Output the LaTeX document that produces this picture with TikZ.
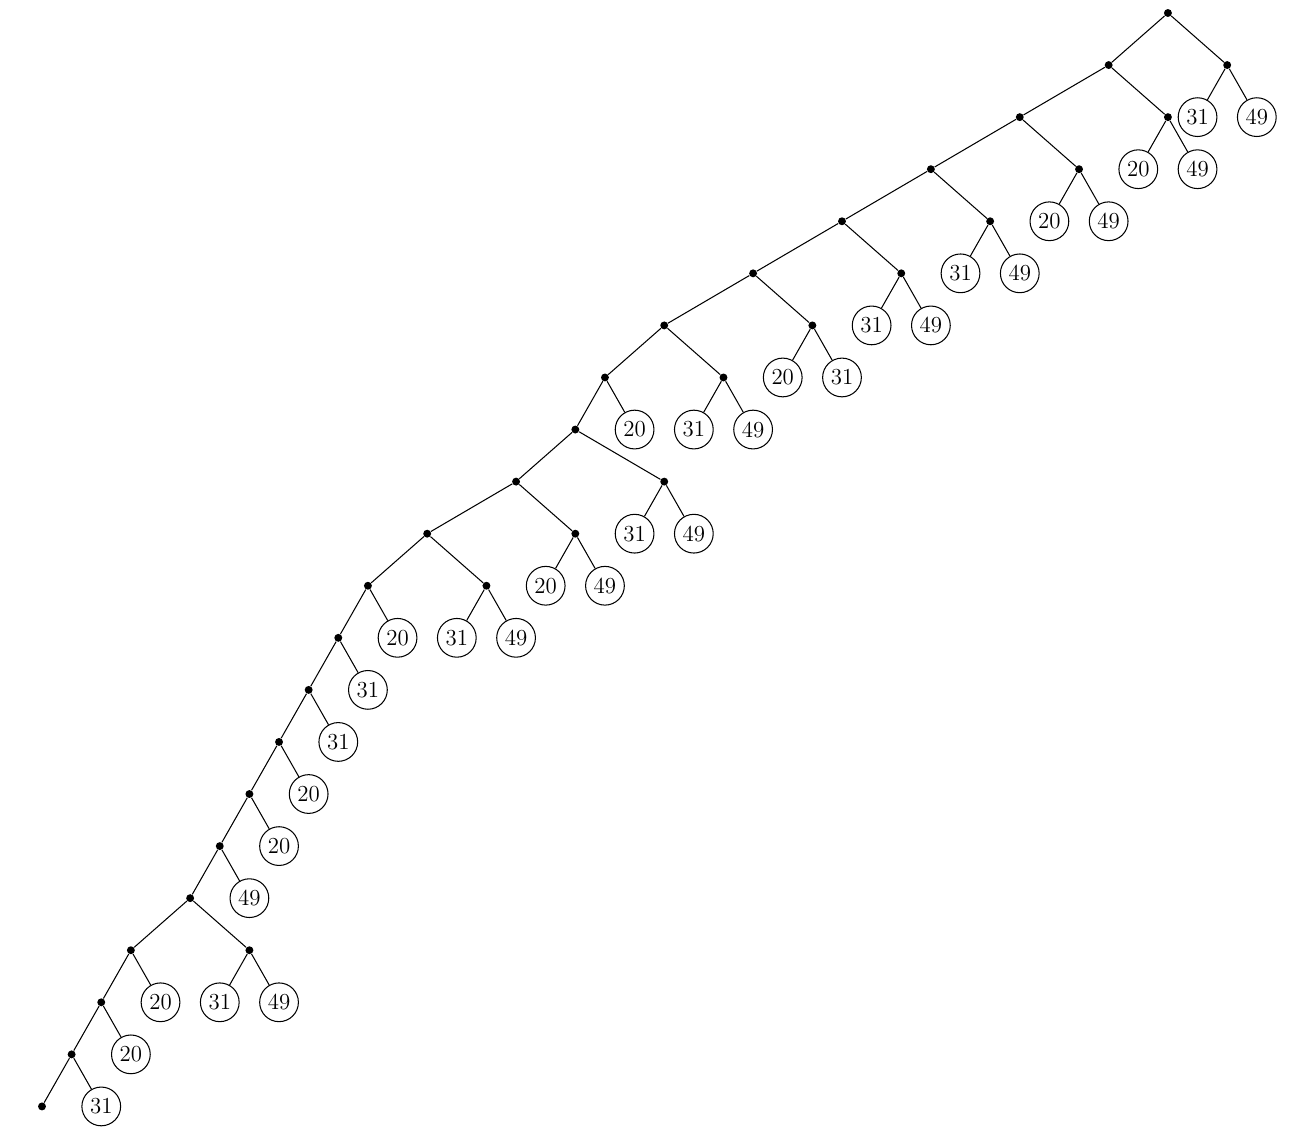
\documentclass[tikz,border=0pt]{standalone}
\usepackage{tikz}

\begin{document}
\begin{tikzpicture}[
    x=0.5cm, y=25pt,
    dot/.style={circle, fill=black, inner sep=0pt, minimum size=3.8pt},
    leaf/.style={circle, draw, inner sep=0pt, minimum size=18.6pt, line width=0.5pt, font=\fontsize{11}{13}\selectfont},
    edge/.style={line width=0.5pt},
]
\useasboundingbox (-1.4175,-0.576) rectangle (42.12,21.25);

% ─────────────────────────────────────────
% Upper part of the spine
% ─────────────────────────────────────────
\node[dot] (r) at (38,21) {};

\node[dot] (a1) at (36,20) {};
\node[dot] (b1) at (40,20) {};

\node[dot] (a2) at (33,19) {};
\node[dot] (b2) at (38,19) {};
\node[leaf] (b1l) at (39,19) {31};
\node[leaf] (b1r) at (41,19) {49};

\node[dot] (a3) at (30,18) {};
\node[dot] (b3) at (35,18) {};
\node[leaf] (b2l) at (37,18) {20};
\node[leaf] (b2r) at (39,18) {49};

\node[dot] (a4) at (27,17) {};
\node[dot] (b4) at (32,17) {};
\node[leaf] (b3l) at (34,17) {20};
\node[leaf] (b3r) at (36,17) {49};

\node[dot] (a5) at (24,16) {};
\node[dot] (b5) at (29,16) {};
\node[leaf] (b4l) at (31,16) {31};
\node[leaf] (b4r) at (33,16) {49};

\node[dot] (a6) at (21,15) {};
\node[dot] (b6) at (26,15) {};
\node[leaf] (b5l) at (28,15) {31};
\node[leaf] (b5r) at (30,15) {49};

\node[dot] (a7) at (19,14) {};
\node[dot] (b7) at (23,14) {};
\node[leaf] (b6l) at (25,14) {20};
\node[leaf] (b6r) at (27,14) {31};

\node[dot] (a8) at (18,13) {};
\node[leaf] (a7r) at (20,13) {20};
\node[leaf] (b7l) at (22,13) {31};
\node[leaf] (b7r) at (24,13) {49};

% ─────────────────────────────────────────
% Middle part
% ─────────────────────────────────────────
\node[dot] (a9) at (16,12) {};
\node[dot] (b9) at (21,12) {};

\node[dot] (a10) at (13,11) {};
\node[dot] (b10) at (18,11) {};
\node[leaf] (b9l) at (20,11) {31};
\node[leaf] (b9r) at (22,11) {49};

\node[dot] (a11) at (11,10) {};
\node[dot] (b11) at (15,10) {};
\node[leaf] (b10l) at (17,10) {20};
\node[leaf] (b10r) at (19,10) {49};

\node[dot] (a12) at (10,9) {};
\node[leaf] (a11r) at (12,9) {20};
\node[leaf] (b11l) at (14,9) {31};
\node[leaf] (b11r) at (16,9) {49};

% ─────────────────────────────────────────
% Lower part of the spine
% ─────────────────────────────────────────
\node[dot] (a13) at (9,8) {};
\node[leaf] (a12r) at (11,8) {31};

\node[dot] (a14) at (8,7) {};
\node[leaf] (a13r) at (10,7) {31};

\node[dot] (a15) at (7,6) {};
\node[leaf] (a14r) at (9,6) {20};

\node[dot] (a16) at (6,5) {};
\node[leaf] (a15r) at (8,5) {20};

\node[dot] (a17) at (5,4) {};
\node[leaf] (a16r) at (7,4) {49};

\node[dot] (a18) at (3,3) {};
\node[dot] (b18) at (7,3) {};

\node[dot] (a19) at (2,2) {};
\node[leaf] (a18r) at (4,2) {20};
\node[leaf] (b18l) at (6,2) {31};
\node[leaf] (b18r) at (8,2) {49};

\node[dot] (a20) at (1,1) {};
\node[leaf] (a19r) at (3,1) {20};

\node[dot] (a21) at (0,0) {};
\node[leaf] (a20r) at (2,0) {31};

% ─────────────────────────────────────────
% Edges
% ─────────────────────────────────────────
\draw[edge] (r) -- (a1) (r) -- (b1) (b1) -- (b1l) (b1) -- (b1r);
\draw[edge] (a1) -- (a2) (a1) -- (b2) (b2) -- (b2l) (b2) -- (b2r);
\draw[edge] (a2) -- (a3) (a2) -- (b3) (b3) -- (b3l) (b3) -- (b3r);
\draw[edge] (a3) -- (a4) (a3) -- (b4) (b4) -- (b4l) (b4) -- (b4r);
\draw[edge] (a4) -- (a5) (a4) -- (b5) (b5) -- (b5l) (b5) -- (b5r);
\draw[edge] (a5) -- (a6) (a5) -- (b6) (b6) -- (b6l) (b6) -- (b6r);
\draw[edge] (a6) -- (a7) (a6) -- (b7) (b7) -- (b7l) (b7) -- (b7r);
\draw[edge] (a7) -- (a8) (a7) -- (a7r);
\draw[edge] (a8) -- (a9) (a8) -- (b9) (b9) -- (b9l) (b9) -- (b9r);
\draw[edge] (a9) -- (a10) (a9) -- (b10) (b10) -- (b10l) (b10) -- (b10r);
\draw[edge] (a10) -- (a11) (a10) -- (b11) (b11) -- (b11l) (b11) -- (b11r);
\draw[edge] (a11) -- (a12) (a11) -- (a11r);
\draw[edge] (a12) -- (a13) (a12) -- (a12r);
\draw[edge] (a13) -- (a14) (a13) -- (a13r);
\draw[edge] (a14) -- (a15) (a14) -- (a14r);
\draw[edge] (a15) -- (a16) (a15) -- (a15r);
\draw[edge] (a16) -- (a17) (a16) -- (a16r);
\draw[edge] (a17) -- (a18) (a17) -- (b18) (b18) -- (b18l) (b18) -- (b18r);
\draw[edge] (a18) -- (a19) (a18) -- (a18r);
\draw[edge] (a19) -- (a20) (a19) -- (a19r);
\draw[edge] (a20) -- (a21) (a20) -- (a20r);

\end{tikzpicture}
\end{document}
